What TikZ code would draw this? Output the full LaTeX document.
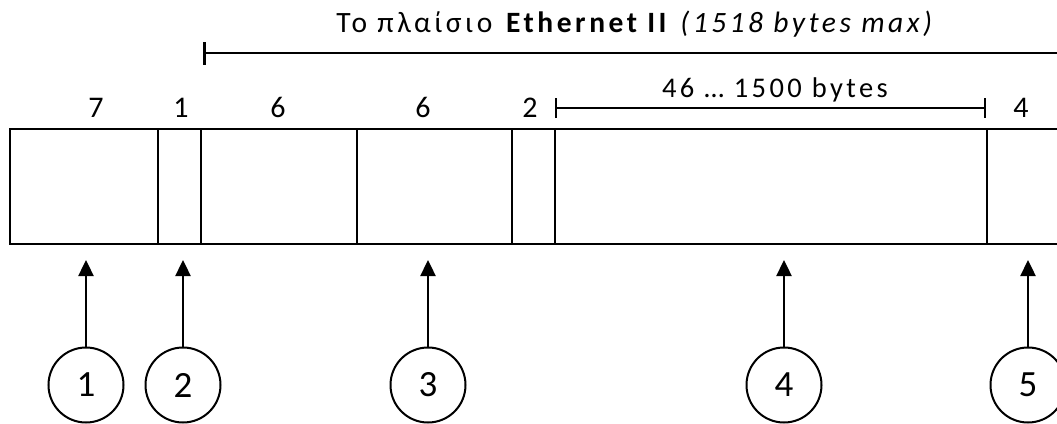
\documentclass[tikz,border=0pt]{standalone}
\usepackage{fontspec}
\setmainfont[LetterSpace=12]{Carlito}
\newfontfamily\plainfont{Carlito}
\usetikzlibrary{arrows.meta}
\tikzset{
  field/.style={draw, line width=2pt, minimum height=115pt, inner sep=0pt, anchor=north west},
  numlabel/.style={anchor=base, inner sep=0pt, font=\plainfont\fontsize{30}{30}\selectfont},
  callout/.style={draw, circle, line width=2pt, minimum size=75pt, inner sep=0pt, font=\plainfont\fontsize{37}{37}\selectfont},
  arr/.style={line width=2.4pt, -{Triangle[length=16pt,width=15pt]}},
  span/.style={line width=2.6pt, {Bar[width=23pt,line width=2.6pt]}-},
  subspan/.style={line width=2.2pt, {Bar[width=20pt,line width=2.2pt]}-{Bar[width=20pt,line width=2.2pt]}},
}
\begin{document}
\begin{tikzpicture}[x=1pt,y=-1pt]
\useasboundingbox (0,0) rectangle (1057,423);
% frame fields
\node[field, minimum width=148pt] (f1) at (9,128) {};
\node[field, minimum width=43pt] (f2) at (157,128) {};
\node[field, minimum width=156pt] (f3) at (200,128) {};
\node[field, minimum width=155pt] (f4) at (356,128) {};
\node[field, minimum width=43pt] (f5) at (511,128) {};
\node[field, minimum width=432pt] (f6) at (554,128) {};
\node[field, minimum width=100pt] (f7) at (986,128) {};
% byte counts
\node[numlabel] (n1) at (96,117) {7};
\node[numlabel] (n2) at (181,117) {1};
\node[numlabel] (n3) at (278,117) {6};
\node[numlabel] (n4) at (423,117) {6};
\node[numlabel] (n5) at (530,117) {2};
\node[numlabel] (n6) at (1021,117) {4};
% title and spans
\node[anchor=base, inner sep=0pt, font=\fontsize{29.5}{29.5}\selectfont] (title) at (636,32) {Το πλαίσιο \textbf{Ethernet II} \textit{(1518 bytes max)}};
\coordinate (s1) at (203,53);
\coordinate (s2) at (1075,53);
\draw[span] (s1) -- (s2);
\node[anchor=base, inner sep=0pt, font=\fontsize{28.5}{28.5}\selectfont] (payload) at (775,97) {46 … 1500 bytes};
\coordinate (p1) at (555,108);
\coordinate (p2) at (986,108);
\draw[subspan] (p1) -- (p2);
% callouts
\node[callout] (c1) at (86,385) {1};
\node[callout] (c2) at (183,385) {2};
\node[callout] (c3) at (428,385) {3};
\node[callout] (c4) at (784,385) {4};
\node[callout] (c5) at (1028,385) {5};
\coordinate (t1) at (86,260);
\coordinate (t2) at (183,260);
\coordinate (t3) at (428,260);
\coordinate (t4) at (784,260);
\coordinate (t5) at (1028,260);
\draw[arr] (c1) -- (t1);
\draw[arr] (c2) -- (t2);
\draw[arr] (c3) -- (t3);
\draw[arr] (c4) -- (t4);
\draw[arr] (c5) -- (t5);
\end{tikzpicture}
\end{document}
